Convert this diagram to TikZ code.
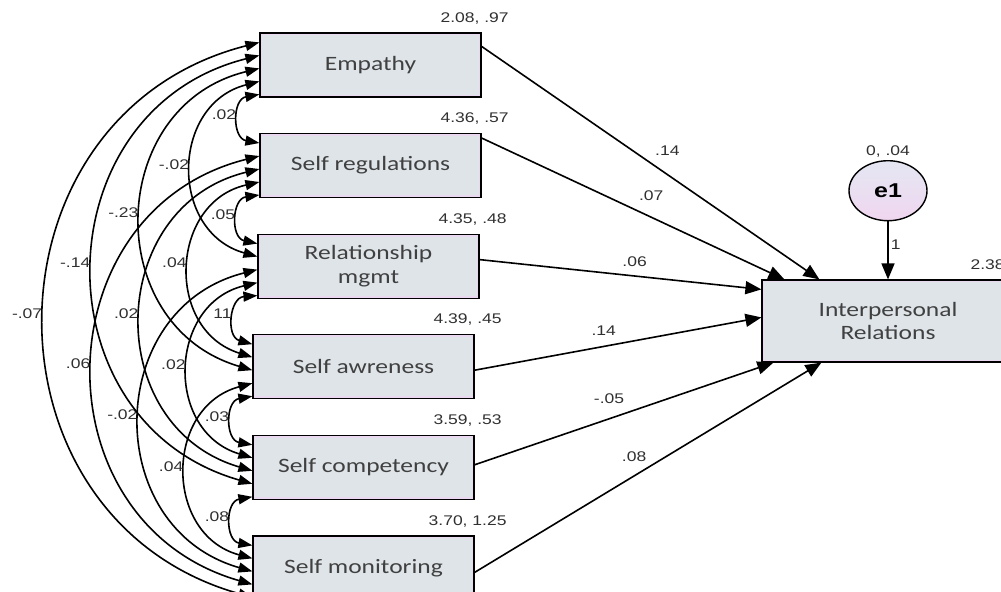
\documentclass[tikz,border=0pt]{standalone}
\usepackage{fontspec}
\setmainfont{Liberation Sans}[FakeStretch=1.25]
\newfontfamily\boxfont{Carlito}[FakeStretch=1.25]
\usepackage{tikz}
\usetikzlibrary{positioning,arrows.meta,shapes.geometric}
\definecolor{boxfill}{HTML}{DEE4E8}
\definecolor{boxrim}{HTML}{EAD8F0}
\definecolor{boxtext}{HTML}{404040}
\definecolor{numtext}{HTML}{303030}
\definecolor{errtop}{HTML}{E4E7F2}
\definecolor{errbot}{HTML}{F0D6F0}

\begin{document}
\begin{tikzpicture}[
  var/.style={rectangle, draw, line width=0.6pt, fill=boxfill, text=boxtext, align=center,
    minimum width=110.5pt, minimum height=32pt, inner sep=0pt,
    font=\boxfont\fontsize{10.2}{11.8}\selectfont,
    path picture={\draw[boxrim, line width=2.4pt] (path picture bounding box.south west) rectangle (path picture bounding box.north east);}},
  err/.style={ellipse, draw, line width=0.7pt, top color=errtop, bottom color=errbot,
    minimum width=39pt, minimum height=30pt, inner sep=0pt, font=\bfseries\fontsize{10}{12}\selectfont},
  val/.style={font=\fontsize{7}{8}\selectfont, text=numtext, anchor=center, xshift=-3.5pt, yshift=7.2pt},
  rlab/.style={font=\fontsize{7}{8}\selectfont, text=numtext, inner sep=1pt},
  clab/.style={font=\fontsize{7}{8}\selectfont, text=numtext, inner sep=1pt, left, yshift=2pt},
  reg/.style={-{Triangle[length=8pt,width=6.5pt]}, line width=0.8pt},
  cov/.style={{Triangle[length=7pt,width=5pt]}-{Triangle[length=7pt,width=5pt]}, line width=0.8pt, bend right=75, looseness=1.34},
  near/.style={cov, bend right=80, looseness=1.46},
  node distance=17.7pt
]
\path[use as bounding box, clip] (0,0) rectangle (500.5pt,-295.5pt);

\node[var, label={[val]north east:{2.08, .97}}] (emp) at (185.25pt,-32.5pt) {Empathy};
\node[var, below=of emp, label={[val]north east:{4.36, .57}}] (sreg) {Self regulations};
\node[var, below=of sreg, xshift=-1pt, label={[val]north east:{4.35, .48}}] (rm) {Relationship\\mgmt};
\node[var, below=of rm, xshift=-2.5pt, label={[val]north east:{4.39, .45}}] (sa) {Self awreness};
\node[var, below=of sa, label={[val]north east:{3.59, .53}}] (sc) {Self competency};
\node[var, below=of sc, label={[val]north east:{3.70, 1.25}}] (sm) {Self monitoring};

\node[var, minimum width=126pt, minimum height=41pt, label={[val, xshift=-10pt]north east:2.38}] (ir) at (444pt,-160.5pt) {Interpersonal\\Relations};
\node[err, above=29pt of ir, label={[rlab, text=numtext]above:{0, .04}}] (e1) {e1};

% regression paths
\draw[reg] ([yshift=-7pt]emp.north east) -- node[rlab, pos=.55, above=8pt] {.14} ([xshift=29pt]ir.north west);
\draw[reg] ([yshift=-2.5pt]sreg.north east) -- node[rlab, pos=.56, above=6.7pt] {.07} ([xshift=11.5pt]ir.north west);
\draw[reg] ([yshift=-13pt]rm.north east) -- node[rlab, pos=.55, above=3.5pt] {.06} ([yshift=-5pt]ir.north west);
\draw[reg] ([yshift=-18pt]sa.north east) -- node[rlab, pos=.45, above=4.2pt] {.14} ([yshift=-19pt]ir.north west);
\draw[reg] ([yshift=-15pt]sc.north east) -- node[rlab, pos=.45, above=6pt] {-.05} ([xshift=6pt]ir.south west);
\draw[reg] ([yshift=-18.5pt]sm.north east) -- node[rlab, pos=.46, above=5.5pt] {.08} ([xshift=30pt]ir.south west);
\draw[reg] (e1) -- node[rlab, pos=.4, right] {1} (e1 |- ir.north);

% covariances
\draw[near] ([yshift=-31pt]emp.north west) to node[clab] {.02} ([yshift=-5pt]sreg.north west);
\draw[near] ([yshift=-31pt]sreg.north west) to node[clab] {.05} ([yshift=-5pt]rm.north west);
\draw[near] ([yshift=-31pt]rm.north west) to node[clab] {11} ([yshift=-5pt]sa.north west);
\draw[near] ([yshift=-31pt]sa.north west) to node[clab] {.03} ([yshift=-5pt]sc.north west);
\draw[near] ([yshift=-31pt]sc.north west) to node[clab] {.08} ([yshift=-5pt]sm.north west);
\draw[cov] ([yshift=-24.5pt]emp.north west) to node[clab] {-.02} ([yshift=-11.5pt]rm.north west);
\draw[cov] ([yshift=-24.5pt]sreg.north west) to node[clab] {.04} ([yshift=-11.5pt]sa.north west);
\draw[cov] ([yshift=-24.5pt]rm.north west) to node[clab] {.02} ([yshift=-11.5pt]sc.north west);
\draw[cov] ([yshift=-24.5pt]sa.north west) to node[clab] {.04} ([yshift=-11.5pt]sm.north west);
\draw[cov] ([yshift=-18pt]emp.north west) to node[clab] {-.23} ([yshift=-18pt]sa.north west);
\draw[cov] ([yshift=-18pt]sreg.north west) to node[clab] {.02} ([yshift=-18pt]sc.north west);
\draw[cov] ([yshift=-18pt]rm.north west) to node[clab] {-.02} ([yshift=-18pt]sm.north west);
\draw[cov] ([yshift=-11.5pt]emp.north west) to node[clab] {-.14} ([yshift=-24.5pt]sc.north west);
\draw[cov] ([yshift=-11.5pt]sreg.north west) to node[clab] {.06} ([yshift=-24.5pt]sm.north west);
\draw[cov] ([yshift=-5pt]emp.north west) to node[clab] {-.07} ([yshift=-31pt]sm.north west);
\end{tikzpicture}
\end{document}
